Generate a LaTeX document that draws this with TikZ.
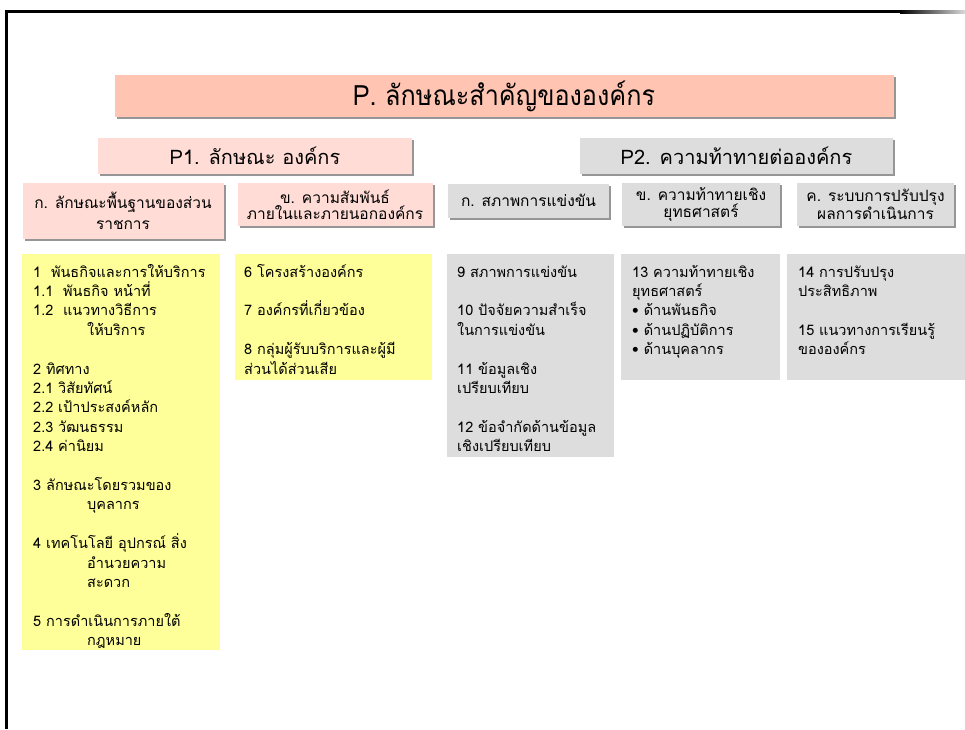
\documentclass[tikz,border=0pt]{standalone}
\usepackage{fontspec}
\setmainfont[Script=Thai]{Loma}
\newfontfamily\titlefont[Script=Thai,FakeStretch=0.9]{Loma}
\usetikzlibrary{shadows}
\definecolor{titlefill}{RGB}{255,197,178}
\definecolor{pinkfill}{RGB}{255,221,214}
\definecolor{grayfill}{RGB}{221,221,221}
\definecolor{yellowfill}{RGB}{255,255,153}
\definecolor{shadowc}{RGB}{150,150,150}
\begin{document}
\begin{tikzpicture}[x=1pt,y=-1pt,
  hbox/.style={draw=none, inner sep=0pt, align=center,
    drop shadow={shadow xshift=2pt,shadow yshift=-2pt,fill=shadowc,opacity=1}},
  cbox/.style={draw=none, inner sep=0pt, anchor=north west},
  subfont/.style={font=\fontsize{15.5}{16.5}\selectfont},
  ctext/.style={anchor=base west, inner sep=0pt}
]
\useasboundingbox (0,0) rectangle (965,729);
\fill[white] (0,0) rectangle (965,729);
% frame
\draw[line width=3pt] (6.5,729) -- (6.5,11.5) -- (900,11.5);
\shade[left color=black, right color=black!15] (900,10) rectangle (965,13);

% title
\node[hbox, fill=titlefill, minimum width=779pt, minimum height=42pt,
  font=\titlefont\fontsize{28}{30}\selectfont] (title) at (504,96) {P. ลักษณะสำคัญขององค์กร};

% level 1
\node[hbox, fill=pinkfill, minimum width=314pt, minimum height=36pt,
  font=\fontsize{20}{22}\selectfont] (p1) at (255,156) {P1. ลักษณะ องค์กร};
\node[hbox, fill=grayfill, minimum width=313pt, minimum height=36pt,
  font=\fontsize{20}{22}\selectfont] (p2) at (736.5,156) {P2. ความท้าทายต่อองค์กร};

% level 2
\node[hbox, fill=pinkfill, minimum width=201pt, minimum height=56pt, subfont] (s1) at (123,211) {ก. ลักษณะพื้นฐานของส่วน\\[4pt]ราชการ};
\node[hbox, fill=pinkfill, minimum width=195pt, minimum height=43pt, subfont] (s2) at (335,204.5) {ข. ความสัมพันธ์\\ภายในและภายนอกองค์กร};
\node[hbox, fill=grayfill, minimum width=161pt, minimum height=34pt, subfont] (s3) at (528.5,200.5) {ก. สภาพการแข่งขัน};
\node[hbox, fill=grayfill, minimum width=158pt, minimum height=43pt, subfont] (s4) at (701,204.5) {ข. ความท้าทายเชิง\\ยุทธศาสตร์};
\node[hbox, fill=grayfill, minimum width=157pt, minimum height=43pt, subfont] (s5) at (875.5,204.5) {ค. ระบบการปรับปรุง\\ผลการดำเนินการ};

% content boxes
\node[cbox, fill=yellowfill, minimum width=198pt, minimum height=396pt] (c1) at (22,254) {};
\node[cbox, fill=yellowfill, minimum width=197pt, minimum height=126pt] (c2) at (235,254) {};
\node[cbox, fill=grayfill, minimum width=167pt, minimum height=203pt] (c3) at (447,254) {};
\node[cbox, fill=grayfill, minimum width=159pt, minimum height=126pt] (c4) at (621,254) {};
\node[cbox, fill=grayfill, minimum width=178pt, minimum height=126pt] (c5) at (787,254) {};

\newcommand{\ctxt}[2]{\parbox[t]{#1}{\fontsize{14.5}{19.4}\selectfont\raggedright #2}}
\newcommand{\ind}{\hspace*{54pt}}

\node[ctext] (t1) at (33,277) {\ctxt{185pt}{%
1\ \ พันธกิจและการให้บริการ\\
1.1\ \ พันธกิจ หน้าที่\\
1.2\ \ แนวทางวิธีการ\\
\ind ให้บริการ\\
\mbox{}\\
2 ทิศทาง\\
2.1 วิสัยทัศน์\\
2.2 เป้าประสงค์หลัก\\
2.3 วัฒนธรรม\\
2.4 ค่านิยม\\
\mbox{}\\
3 ลักษณะโดยรวมของ\\
\ind บุคลากร\\
\mbox{}\\
4 เทคโนโลยี อุปกรณ์ สิ่ง\\
\ind อำนวยความ\\
\ind สะดวก\\
\mbox{}\\
5 การดำเนินการภายใต้\\
\ind กฎหมาย}};

\node[ctext] (t2) at (244,277) {\ctxt{185pt}{%
6 โครงสร้างองค์กร\\
\mbox{}\\
7 องค์กรที่เกี่ยวข้อง\\
\mbox{}\\
8 กลุ่มผู้รับบริการและผู้มี\\
ส่วนได้ส่วนเสีย}};

\node[ctext] (t3) at (457,277) {\ctxt{155pt}{%
9 สภาพการแข่งขัน\\
\mbox{}\\
10 ปัจจัยความสำเร็จ\\
ในการแข่งขัน\\
\mbox{}\\
11 ข้อมูลเชิง\\
เปรียบเทียบ\\
\mbox{}\\
12 ข้อจำกัดด้านข้อมูล\\
เชิงเปรียบเทียบ}};

\node[ctext] (t4) at (632,277) {\ctxt{145pt}{%
13 ความท้าทายเชิง\\
ยุทธศาสตร์\\
\textbullet\ ด้านพันธกิจ\\
\textbullet\ ด้านปฏิบัติการ\\
\textbullet\ ด้านบุคลากร}};

\node[ctext] (t5) at (798,277) {\ctxt{160pt}{%
14 การปรับปรุง\\
ประสิทธิภาพ\\
\mbox{}\\
15 แนวทางการเรียนรู้\\
ขององค์กร}};
\end{tikzpicture}
\end{document}
